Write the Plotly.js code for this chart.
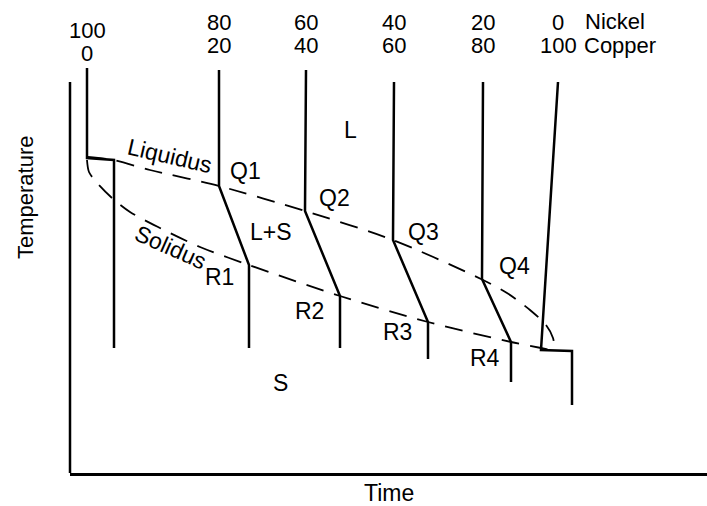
<!DOCTYPE html>
<html>
<head>
<meta charset="utf-8">
<script src="https://cdn.plot.ly/plotly-3.0.1.min.js"></script>
<style>html,body{margin:0;padding:0;background:#fff;}#chart{width:707px;height:506px;}</style>
</head>
<body>
<div id="chart"></div>
<script>
// Composition of each alloy (top labels)
const nickelPct = [100, 80, 60, 40, 20, 0];
const copperPct = [0, 20, 40, 60, 80, 100];

// Cooling curves: time (arbitrary units) vs temperature (arbitrary units)
const curve0Time = [17, 17, 44, 44];
const curve0Temp = [405, 315, 313, 125];
const curve1Time = [149, 149, 179, 179];
const curve1Temp = [403, 287, 208, 125];
const curve2Time = [236, 235, 270, 270];
const curve2Temp = [403, 262, 177, 125];
const curve3Time = [324, 323, 358, 358];
const curve3Temp = [391, 233, 151, 114];
const curve4Time = [413, 412, 441, 441];
const curve4Temp = [391, 194, 131, 91];
const curve5Time = [488, 471, 502, 502];
const curve5Temp = [391, 123, 122, 68];

// Liquidus and solidus lines
const liquidusTime = [18, 43, 80, 149, 235, 323, 411, 437, 460, 476, 483, 485];
const liquidusTemp = [316, 313, 303, 287, 262, 233, 194, 180, 163, 148, 135, 122];
const solidusTime = [17, 19, 28, 42, 60, 90, 130, 179, 270, 358, 441, 471, 485];
const solidusTemp = [313, 301, 289, 275, 261, 245, 226, 208, 177, 151, 131, 125, 122];

// Point labels
const qLabels = ['Q1', 'Q2', 'Q3', 'Q4'];
const qTime = [175, 264, 353, 444];
const qTemp = [302, 275, 241, 207];
const rLabels = ['R1', 'R2', 'R3', 'R4'];
const rTime = [149, 239, 327, 415];
const rTemp = [196, 162, 141, 115];

// Region labels
const regionLabels = ['L', 'L+S', 'S'];
const regionTime = [280, 201, 210];
const regionTemp = [343, 241, 90];

const curves = [
  [curve0Time, curve0Temp], [curve1Time, curve1Temp], [curve2Time, curve2Temp],
  [curve3Time, curve3Temp], [curve4Time, curve4Temp], [curve5Time, curve5Temp]
];

const FONT = 'Liberation Sans, Arial, sans-serif';
const traces = curves.map(c => ({
  x: c[0], y: c[1], mode: 'lines', type: 'scatter',
  line: {color: '#000', width: 2.5}, hoverinfo: 'skip', showlegend: false
}));
traces.push({x: liquidusTime, y: liquidusTemp, mode: 'lines', type: 'scatter',
  line: {color: '#000', width: 1.8, dash: '18px,11px', shape: 'spline', smoothing: 0.8},
  hoverinfo: 'skip', showlegend: false});
traces.push({x: solidusTime, y: solidusTemp, mode: 'lines', type: 'scatter',
  line: {color: '#000', width: 1.8, dash: '18px,11px', shape: 'spline', smoothing: 0.8},
  hoverinfo: 'skip', showlegend: false});

const annotations = [];
const txt = (x, y, text, size, extra) => Object.assign({
  x: x, y: y, xref: 'x', yref: 'y', text: text, showarrow: false,
  font: {family: FONT, size: size || 20, color: '#000'}, xanchor: 'center', yanchor: 'middle'
}, extra || {});

// top composition labels, placed over each curve's first point
curves.forEach((c, i) => {
  const first = i === 0;
  annotations.push(txt(c[0][0], first ? 443 : 451, String(nickelPct[i]), 22));
  annotations.push(txt(c[0][0], first ? 420 : 428, String(copperPct[i]), 22));
});
annotations.push(txt(545, 452, 'Nickel', 22));
annotations.push(txt(550, 428, 'Copper', 22));

qLabels.forEach((t, i) => annotations.push(txt(qTime[i], qTemp[i], t, 23)));
rLabels.forEach((t, i) => annotations.push(txt(rTime[i], rTemp[i], t, 23)));
regionLabels.forEach((t, i) => annotations.push(txt(regionTime[i], regionTemp[i], t, 23)));

annotations.push(txt(100, 317, 'Liquidus', 23, {textangle: 13}));
annotations.push(txt(100, 226, 'Solidus', 23, {textangle: 24}));

// axis titles
annotations.push({x: 0.5, y: -0.042, xref: 'paper', yref: 'paper', text: 'Time', showarrow: false,
  font: {family: FONT, size: 23, color: '#000'}, xanchor: 'center', yanchor: 'middle'});
annotations.push({x: -0.071, y: 0.583, xref: 'paper', yref: 'paper', text: 'Temperature', showarrow: false,
  textangle: -90, font: {family: FONT, size: 22, color: '#000'}, xanchor: 'center', yanchor: 'middle'});

const layout = {
  width: 707, height: 506,
  margin: {l: 70, r: 0, t: 0, b: 33, pad: 0},
  paper_bgcolor: '#fff', plot_bgcolor: '#fff',
  showlegend: false,
  xaxis: {range: [0, 637], showgrid: false, zeroline: false, showticklabels: false, ticks: '',
    showline: true, linecolor: '#000', linewidth: 2.5, fixedrange: true},
  yaxis: {range: [0, 473], showgrid: false, zeroline: false, showticklabels: false, ticks: '',
    showline: false, fixedrange: true},
  shapes: [{type: 'line', xref: 'paper', yref: 'paper', x0: 0, x1: 0, y0: 0, y1: 391 / 473,
    line: {color: '#000', width: 2.5}}],
  annotations: annotations
};

Plotly.newPlot('chart', traces, layout, {displayModeBar: false, staticPlot: true});
</script>
</body>
</html>
